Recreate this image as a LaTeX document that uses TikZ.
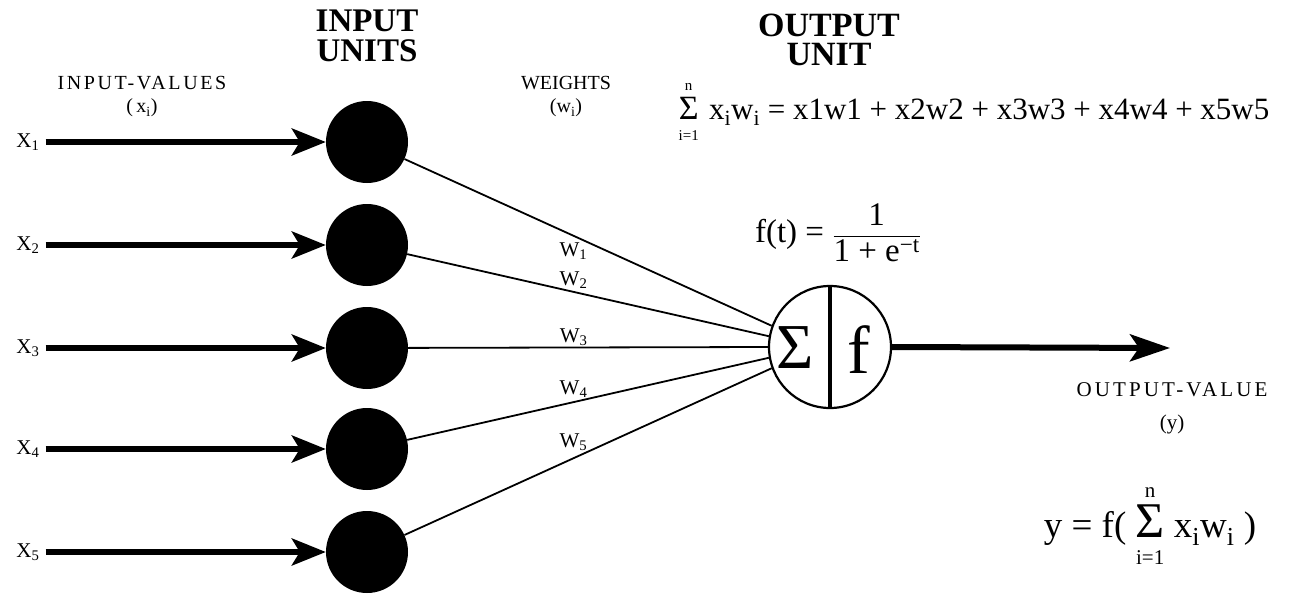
\documentclass[tikz,border=0pt]{standalone}
\usepackage{amsmath}
\usepackage{fontspec}
\setmainfont{Liberation Serif}
\usetikzlibrary{arrows.meta,positioning}
\newcommand{\bigsum}[2]{\mathop{\hbox{\fontsize{#1}{#1}\selectfont Σ}}\limits^{\hbox{\fontsize{#2}{#2}\selectfont\rule[-4pt]{0pt}{1pt}n}}_{\hbox{\fontsize{#2}{#2}\selectfont\rule{0pt}{1.1em}i=1}}}

\begin{document}
\begin{tikzpicture}[x=1pt, y=-1pt,
      inunit/.style={circle, fill=black, minimum size=82pt, inner sep=0pt},
      outunit/.style={circle, draw=black, line width=2.2pt, minimum size=122pt, inner sep=0pt},
      inlabel/.style={font=\fontsize{21}{22}\selectfont, inner sep=1pt},
      wlabel/.style={font=\fontsize{21}{22}\selectfont, inner sep=1pt},
      caption/.style={align=center, font=\fontsize{20}{23}\selectfont},
      unittitle/.style={anchor=base, inner sep=0pt},
      formula/.style={inner sep=0pt},
      inarrow/.style={line width=5.5pt, -{Stealth[length=34pt, width=27pt, inset=8pt]}},
      weight/.style={line width=1.8pt}
    ]
      \useasboundingbox (0,0) rectangle (1289,594);

      % Titles
      \node[unittitle, font=\fontsize{33}{30}\bfseries\selectfont] (intitle) at (367,32) {INPUT};
      \node[unittitle, font=\fontsize{33}{30}\bfseries\selectfont] (intitle2) at (367,62) {UNITS};
      \node[unittitle, font=\fontsize{34}{30}\bfseries\selectfont] (outtitle) at (829,37) {OUTPUT};
      \node[unittitle, font=\fontsize{34}{30}\bfseries\selectfont] (outtitle2) at (829,65) {UNIT};
      \node[caption] (invalues) at (142,97)
        {{\addfontfeature{LetterSpace=13}INPUT-VALUES}\\(\,x\textsubscript{i})};
      \node[caption] (weights) at (566,97) {WEIGHTS\\(w\textsubscript{i})};

      % Input units
      \node[inunit] (in1) at (367,142) {};
      \node[inunit] (in2) at (367,245) {};
      \node[inunit] (in3) at (367,348) {};
      \node[inunit] (in4) at (367,449) {};
      \node[inunit] (in5) at (367,552) {};

      % Input values
      \node[inlabel] (x1) at (28,142) {X\textsubscript{1}};
      \node[inlabel] (x2) at (28,245) {X\textsubscript{2}};
      \node[inlabel] (x3) at (28,348) {X\textsubscript{3}};
      \node[inlabel] (x4) at (28,449) {X\textsubscript{4}};
      \node[inlabel] (x5) at (28,552) {X\textsubscript{5}};
      \draw[inarrow] (x1.east) ++(5,0) -- (in1);
      \draw[inarrow] (x2.east) ++(5,0) -- (in2);
      \draw[inarrow] (x3.east) ++(5,0) -- (in3);
      \draw[inarrow] (x4.east) ++(5,0) -- (in4);
      \draw[inarrow] (x5.east) ++(5,0) -- (in5);

      % Output unit
      \node[outunit] (out) at (830,347) {};
      \draw[line width=4pt] (out.north) -- (out.south);
      \node[font=\fontsize{64}{64}\selectfont, inner sep=0pt] (sigma) at (795,348) {Σ};
      \node[font=\fontsize{68}{68}\selectfont, inner sep=0pt] (func) at (859,350) {f};

      % Weights
      \draw[weight] (in1) -- (out.160) node[wlabel, pos=0.46, below=5pt] {W\textsubscript{1}};
      \draw[weight] (in2) -- (out.170) node[wlabel, pos=0.46, above=1pt] {W\textsubscript{2}};
      \draw[weight] (in3) -- (out.180) node[wlabel, pos=0.46, above] {W\textsubscript{3}};
      \draw[weight] (in4) -- (out.190) node[wlabel, pos=0.46, above=3pt] {W\textsubscript{4}};
      \draw[weight] (in5) -- (out.200) node[wlabel, pos=0.46, above=6pt] {W\textsubscript{5}};

      % Output value
      \coordinate (yend) at (1170,348);
      \draw[line width=6pt, -{Stealth[length=40pt, width=27pt, inset=9pt]}] (out.east) -- (yend);
      \node[caption, font=\fontsize{21}{33}\selectfont] (outvalue) at (1172,408)
        {{\addfontfeature{LetterSpace=15}OUTPUT-VALUE}\\(y)};

      % Formulas
      \node[formula, font=\fontsize{31}{31}\selectfont] (sumform) at (974,112)
        {$\bigsum{34}{15}$\,\,x\textsubscript{i}w\textsubscript{i} = x1w1 + x2w2 + x3w3 + x4w4 + x5w5};
      \node[formula, font=\fontsize{33}{34}\selectfont] (sigmoid) at (838,233)
        {f(t) = $\dfrac{\hbox{1}}{\hbox{1 + e\textsuperscript{−t}}}$};
      \node[formula, font=\fontsize{37}{40}\selectfont] (yform) at (1150,526)
        {y = f( $\bigsum{50}{21}$ x\textsubscript{i}w\textsubscript{i} )};
    \end{tikzpicture}
\end{document}
